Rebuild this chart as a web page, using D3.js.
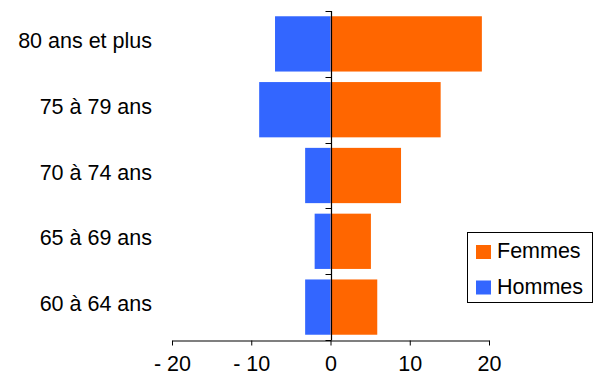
<!DOCTYPE html>
<html><head><meta charset="utf-8">
<script src="https://cdn.jsdelivr.net/npm/d3@7"></script>
<style>body{margin:0;background:#fff}svg{display:block}text{font-family:"Liberation Sans",Arial,sans-serif;fill:#000}</style>
</head><body>
<svg id="c" width="597" height="376"></svg>
<script>
const categories = ["80 ans et plus","75 à 79 ans","70 à 74 ans","65 à 69 ans","60 à 64 ans"];
const femmes = [19.1, 13.9, 8.9, 5.1, 5.9];
const hommes = [-7.0, -9.0, -3.2, -2.0, -3.2];
const xTicks = [-20, -10, 0, 10, 20];
const xTickLabels = ["- 20", "- 10", "0", "10", "20"];
const seriesNames = ["Femmes", "Hommes"];
const colors = {Femmes: "#FF6600", Hommes: "#3366FF"};

const svg = d3.select("#c");
const x = d3.scaleLinear().domain([-20, 20]).range([172, 489]);
const y = d3.scaleBand().domain(categories).range([11, 340]).paddingInner(0.16).paddingOuter(0.08);
const yb = d3.scaleBand().domain(categories).range([11, 340]);

const fs = "21.5px";
// bars
svg.append("g").selectAll("rect.f").data(categories).join("rect")
  .attr("x", x(0)).attr("y", d => y(d)).attr("height", y.bandwidth())
  .attr("width", (d, i) => x(femmes[i]) - x(0)).attr("fill", colors.Femmes);
svg.append("g").selectAll("rect.h").data(categories).join("rect")
  .attr("x", (d, i) => x(hommes[i])).attr("y", d => y(d)).attr("height", y.bandwidth())
  .attr("width", (d, i) => x(0) - x(hommes[i])).attr("fill", colors.Hommes);

// x axis
const xa = svg.append("g").attr("transform", "translate(0,340.5)")
  .call(d3.axisBottom(x).tickValues(xTicks).tickFormat((d, i) => xTickLabels[i]).tickSize(5).tickSizeOuter(0).tickPadding(10));
xa.select(".domain").attr("stroke", "#000").attr("stroke-width", 1.2);
xa.selectAll(".tick line").attr("stroke", "#000");
xa.selectAll("text").style("font-size", fs).attr("font-family", null);

// zero vertical line with ticks at band boundaries
const zx = Math.round(x(0)) + 0.5;
svg.append("line").attr("x1", zx).attr("x2", zx).attr("y1", 11).attr("y2", 340).attr("stroke", "#000").attr("stroke-width", 1.2);
const bounds = categories.map(d => yb(d)).concat([340]);
svg.append("g").selectAll("line").data(bounds).join("line")
  .attr("x1", zx - 6).attr("x2", zx).attr("y1", d => Math.round(d) + 0.5).attr("y2", d => Math.round(d) + 0.5)
  .attr("stroke", "#000");

// category labels
svg.append("g").selectAll("text").data(categories).join("text")
  .attr("x", 152).attr("y", d => yb(d) + yb.bandwidth() / 2 + 4)
  .attr("text-anchor", "end").style("font-size", fs).text(d => d);

// legend
const lg = svg.append("g");
lg.append("rect").attr("x", 467.5).attr("y", 232.5).attr("width", 125).attr("height", 70)
  .attr("fill", "#fff").attr("stroke", "#000");
seriesNames.forEach((s, i) => {
  lg.append("rect").attr("x", 476).attr("y", 245 + i * 35.5).attr("width", 15).attr("height", 14).attr("fill", colors[s]);
  lg.append("text").attr("x", 497).attr("y", 258 + i * 36).style("font-size", fs).text(s);
});
</script>
</body></html>
